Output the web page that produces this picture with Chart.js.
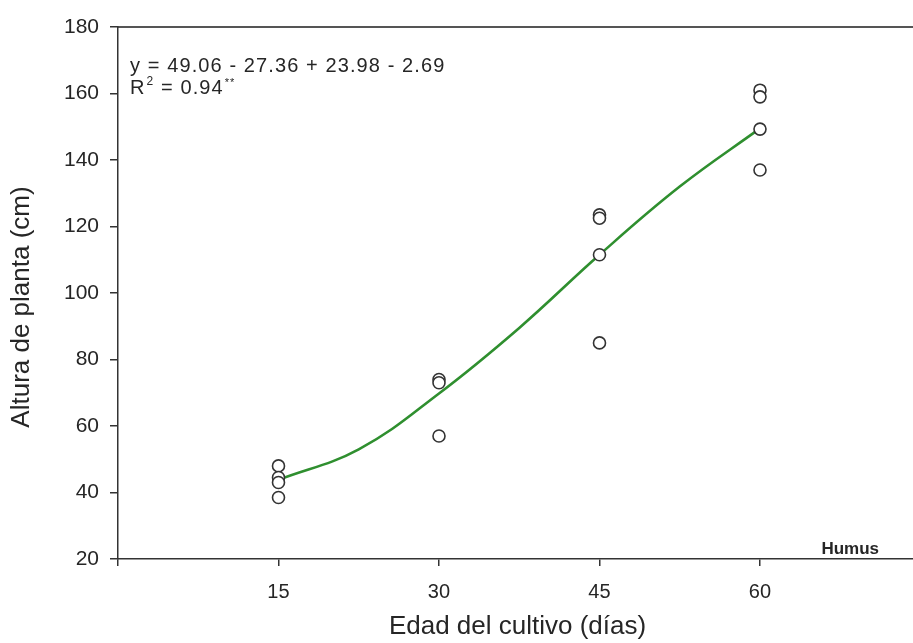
<!DOCTYPE html>
<html>
<head>
<meta charset="utf-8">
<script src="https://cdn.jsdelivr.net/npm/chart.js@4.4.0/dist/chart.umd.min.js"></script>
<style>
html,body{margin:0;padding:0;background:#fff;}
canvas{display:block;}
</style>
</head>
<body>
<canvas id="c" width="913" height="643"></canvas>
<script>
// Observed data (Edad del cultivo, días -> Altura de planta, cm)
const obsX = [15, 15, 15, 15, 30, 30, 30, 45, 45, 45, 45, 60, 60, 60, 60];
const obsY = [48, 44.5, 43, 38.5, 74, 73, 57, 123.5, 122.5, 111.5, 85, 161, 159, 149.3, 137];
// Fitted curve
const fitX = [15, 22.5, 30, 37.5, 45, 52.5, 60];
const fitY = [43.8, 53, 69.8, 89.5, 111.5, 132, 149.5];
const xTicks = [0, 15, 30, 45, 60];
const yTicks = [20, 40, 60, 80, 100, 120, 140, 160, 180];
const xTitle = 'Edad del cultivo (días)';
const yTitle = 'Altura de planta (cm)';
const eqLine1 = 'y = 49.06 - 27.36 + 23.98 - 2.69';
const eqLine2 = ['R', '2', ' = 0.94', '**'];
const seriesLabel = 'Humus';

const FONT = "'Liberation Sans', Arial, sans-serif";
const INK = '#262626';

const textPlugin = {
  id: 'texts',
  afterDraw(chart) {
    const ctx = chart.ctx;
    const area = chart.chartArea;
    ctx.save();
    ctx.fillStyle = INK;
    // axis titles
    ctx.font = '26px ' + FONT;
    ctx.textAlign = 'center';
    ctx.textBaseline = 'middle';
    ctx.fillText(xTitle, (area.left + area.right) / 2 + 2, 627);
    ctx.save();
    ctx.translate(22, 307);
    ctx.rotate(-Math.PI / 2);
    ctx.fillText(yTitle, 0, 0);
    ctx.restore();
    // regression equation
    ctx.textBaseline = 'alphabetic';
    ctx.textAlign = 'left';
    ctx.letterSpacing = '1.1px';
    ctx.font = '20px ' + FONT;
    const x0 = 130, y1 = 72;
    ctx.fillText(eqLine1, x0, y1);
    const y2 = 94;
    let x = x0;
    ctx.font = '20px ' + FONT; ctx.fillText(eqLine2[0], x, y2); x += ctx.measureText(eqLine2[0]).width + 1;
    ctx.font = '12px ' + FONT; ctx.fillText(eqLine2[1], x, y2 - 9); x += ctx.measureText(eqLine2[1]).width;
    ctx.font = '20px ' + FONT; ctx.fillText(eqLine2[2], x, y2); x += ctx.measureText(eqLine2[2]).width + 1;
    ctx.font = '11px ' + FONT; ctx.fillText(eqLine2[3], x, y2 - 8);
    ctx.letterSpacing = '0px';
    ctx.font = 'bold 17px ' + FONT;
    ctx.textAlign = 'right';
    ctx.fillText(seriesLabel, 879, 554);
    ctx.restore();
  }
};

new Chart(document.getElementById('c'), {
  data: {
    datasets: [
      {
        type: 'scatter',
        data: obsX.map((v, i) => ({x: v, y: obsY[i]})),
        pointStyle: 'circle',
        pointRadius: 6,
        pointBorderWidth: 1.6,
        pointBorderColor: '#333',
        pointBackgroundColor: '#fff',
        showLine: false
      },
      {
        type: 'line',
        data: fitX.map((v, i) => ({x: v, y: fitY[i]})),
        borderColor: '#2f8f2f',
        borderWidth: 2.6,
        pointRadius: 0,
        fill: false,
        tension: 0.4
      }
    ]
  },
  options: {
    responsive: false,
    animation: false,
    events: [],
    layout: {autoPadding: false, padding: {top: 27, right: 0, left: 0, bottom: 0}},
    plugins: {legend: {display: false}, tooltip: {enabled: false}},
    scales: {
      x: {
        type: 'linear', position: 'bottom', min: 0, max: 74.3,
        afterFit: s => { s.height = 84; s.paddingRight = 0; s.paddingLeft = 0; },
        afterBuildTicks: s => { s.ticks = xTicks.map(v => ({value: v})); },
        ticks: {font: {size: 20, family: FONT}, color: INK, padding: 14, autoSkip: false, maxRotation: 0,
          callback: v => (v === 0 ? '' : String(v))},
        grid: {drawOnChartArea: false, drawTicks: true, tickLength: 7, color: '#333', lineWidth: 1.5},
        border: {display: true, color: '#333', width: 1.5},
        title: {display: false}
      },
      x2: {
        type: 'linear', position: 'top', min: 0, max: 74.3,
        afterFit: s => { s.height = 0; s.paddingRight = 0; s.paddingLeft = 0; },
        ticks: {display: false},
        grid: {display: false, drawTicks: false},
        border: {display: true, color: '#555', width: 2}
      },
      y: {
        type: 'linear', position: 'left', min: 20, max: 180,
        afterFit: s => { s.width = 118; },
        afterBuildTicks: s => { s.ticks = yTicks.map(v => ({value: v})); },
        ticks: {font: {size: 21, family: FONT}, color: INK, padding: 11},
        grid: {drawOnChartArea: false, drawTicks: true, tickLength: 8, color: '#333', lineWidth: 1.5},
        border: {display: true, color: '#333', width: 1.5},
        title: {display: false}
      }
    }
  },
  plugins: [textPlugin]
});
</script>
</body>
</html>
